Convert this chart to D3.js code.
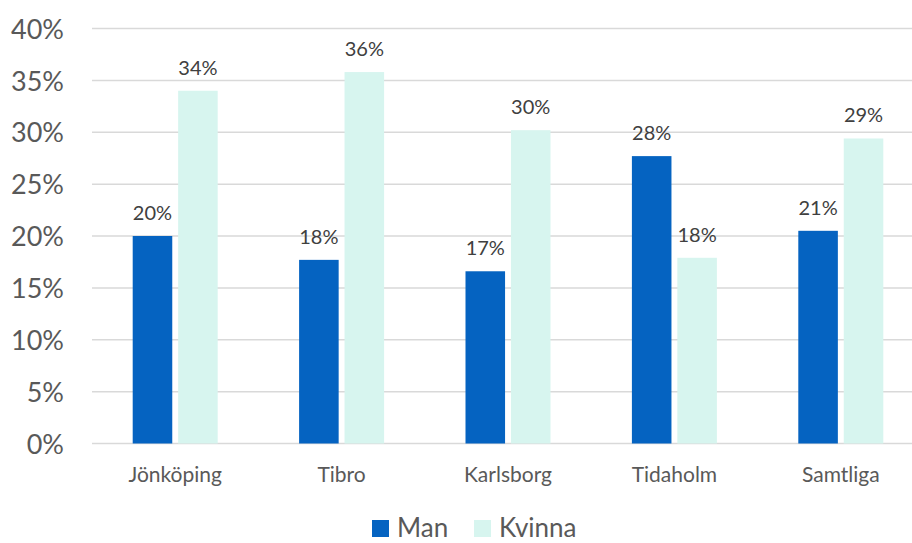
<!DOCTYPE html>
<html>
<head>
<meta charset="utf-8">
<script src="https://cdn.jsdelivr.net/npm/d3@7"></script>
<style>
  body { margin: 0; background: #fff; }
  svg text { font-family: Lato, "Open Sans", sans-serif; fill: #595959; }
</style>
</head>
<body>
<svg id="chart" width="912" height="543"></svg>
<script>
// data
var categories = ["Jönköping", "Tibro", "Karlsborg", "Tidaholm", "Samtliga"]
var seriesNames = ["Man", "Kvinna"]
var man = [0.200, 0.177, 0.166, 0.277, 0.205]
var kvinna = [0.340, 0.358, 0.302, 0.179, 0.294]
var yTicks = [0, 0.05, 0.10, 0.15, 0.20, 0.25, 0.30, 0.35, 0.40]

var colors = { "Man": "#0563C1", "Kvinna": "#D7F5EF" }

var svg = d3.select("#chart")

var plotLeft = 92, plotRight = 924
var x = d3.scaleBand()
    .domain(categories)
    .range([plotLeft, plotRight])

var xSub = d3.scaleBand()
    .domain(seriesNames)
    .range([0, 85])
    .paddingInner(11 / 85)

var y = d3.scaleLinear()
    .domain([0, 0.40])
    .range([443.5, 28.5])

// gridlines
svg.append("g")
  .selectAll("line")
  .data(yTicks)
  .enter().append("line")
    .attr("x1", plotLeft)
    .attr("x2", 912)
    .attr("y1", d => y(d))
    .attr("y2", d => y(d))
    .attr("stroke", "#D9D9D9")
    .attr("stroke-width", 1.5)

// y axis labels
var yAxis = svg.append("g")
    .attr("transform", "translate(" + 64 + ",0)")
    .call(d3.axisLeft(y).tickValues(yTicks).tickFormat(d3.format(".0%")).tickSize(0).tickPadding(0))
yAxis.select(".domain").remove()
yAxis.selectAll("text")
    .attr("font-size", 27)
    .attr("dy", "0.36em")
    .style("font-family", "Lato, sans-serif")
    .attr("fill", "#595959")

// category labels
var xAxis = svg.append("g")
    .attr("transform", "translate(0,443.5)")
    .call(d3.axisBottom(x).tickSize(0).tickPadding(0))
xAxis.select(".domain").remove()
xAxis.selectAll("text")
    .attr("font-size", 21)
    .attr("y", 38)
    .attr("dy", 0)
    .style("font-family", "Lato, sans-serif")
    .attr("fill", "#595959")

var rows = categories.map((c, i) => ({ cat: c, values: [
  { name: "Man", value: man[i] },
  { name: "Kvinna", value: kvinna[i] }
]}))

var groups = svg.append("g")
  .selectAll("g")
  .data(rows)
  .enter().append("g")
    .attr("transform", d => "translate(" + (x(d.cat) + (x.bandwidth() - 85) / 2) + ",0)")

groups.selectAll("rect")
  .data(d => d.values)
  .enter().append("rect")
    .attr("x", d => xSub(d.name))
    .attr("width", xSub.bandwidth())
    .attr("y", d => y(d.value))
    .attr("height", d => y(0) - y(d.value))
    .attr("fill", d => colors[d.name])

groups.selectAll("text.val")
  .data(d => d.values)
  .enter().append("text")
    .attr("class", "val")
    .attr("x", d => xSub(d.name) + xSub.bandwidth() / 2)
    .attr("y", d => y(d.value) - 16)
    .attr("text-anchor", "middle")
    .attr("font-size", 20)
    .style("fill", "#404040")
    .text(d => d3.format(".0%")(d.value))

// legend
var legendX = [372, 474]
var legend = svg.append("g")
  .selectAll("g")
  .data(seriesNames)
  .enter().append("g")
    .attr("transform", (d, i) => "translate(" + legendX[i] + ",520)")
legend.append("rect")
    .attr("width", 17)
    .attr("height", 17)
    .attr("fill", d => colors[d])
legend.append("text")
    .attr("x", 25)
    .attr("y", 17)
    .attr("font-size", 26)
    .text(d => d)
</script>
</body>
</html>
